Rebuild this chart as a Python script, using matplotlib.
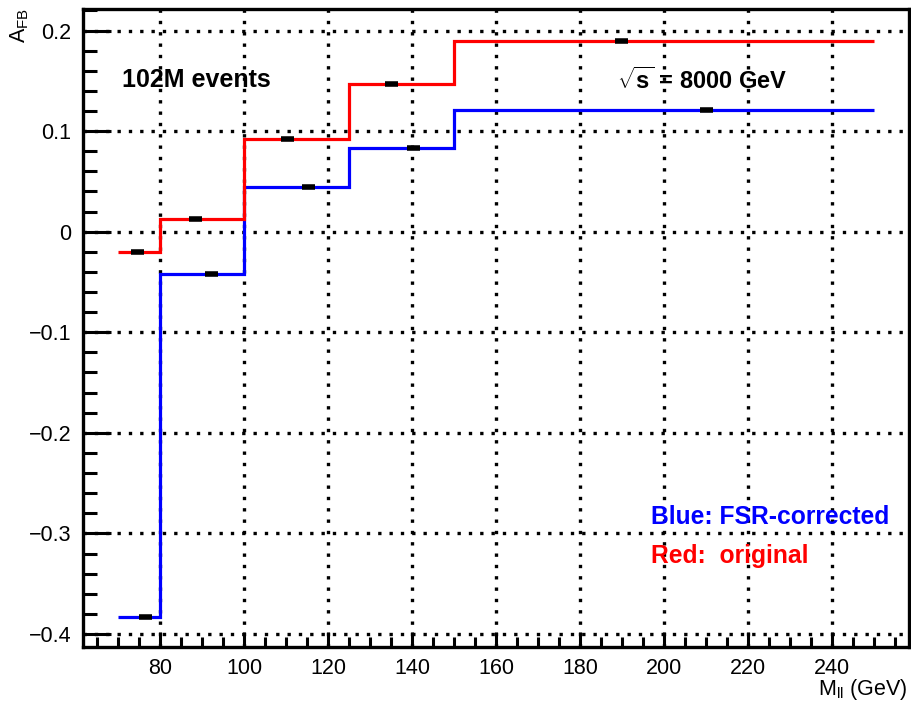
import matplotlib
matplotlib.use("Agg")
import matplotlib.pyplot as plt
import numpy as np

plt.rcParams['font.family'] = ['Liberation Sans', 'DejaVu Sans']
plt.rcParams['mathtext.fontset'] = 'custom'
plt.rcParams['mathtext.rm'] = 'Liberation Sans'
plt.rcParams['mathtext.it'] = 'Liberation Sans:italic'
plt.rcParams['mathtext.bf'] = 'Liberation Sans:bold'
plt.rcParams['axes.unicode_minus'] = True

# Mass bin edges (GeV)
bin_edges = [70, 80, 100, 125, 150, 250]

# Forward-backward asymmetry per mass bin
afb_original = [-0.0207, 0.0131, 0.0920, 0.1466, 0.1897]
afb_fsr_corrected = [-0.3830, -0.0422, 0.0442, 0.0830, 0.1211]

# Mean mass in each bin, where the points are drawn
mean_mass_original = [74.5, 88.3, 110.2, 135.0, 190.0]
mean_mass_fsr_corrected = [76.4, 92.3, 115.3, 140.3, 210.1]

x_ticks = [80, 100, 120, 140, 160, 180, 200, 220, 240]
y_ticks = [-0.4, -0.3, -0.2, -0.1, 0.0, 0.1, 0.2]
y_tick_labels = ["\u22120.4", "\u22120.3", "\u22120.2", "\u22120.1", "0", "0.1", "0.2"]

fig = plt.figure(figsize=(9.11, 7.08), dpi=100)
ax = fig.add_axes([0.0908, 0.0866, 0.9073, 0.9000])

ax.set_xlim(61.5, 258.5)
ax.set_ylim(-0.4126, 0.2209)

# dotted grid at major ticks
grid_style = dict(color='black', linewidth=2.4, linestyle=(0, (1, 2.4)), zorder=1)
for xv in x_ticks:
    ax.axvline(xv, **grid_style)
for yv in y_ticks:
    ax.axhline(yv, **grid_style)

ax.stairs(afb_fsr_corrected, bin_edges, baseline=None, color='#0000ff', linewidth=2.3, zorder=3)
ax.stairs(afb_original, bin_edges, baseline=None, color='#ff0000', linewidth=2.3, zorder=4)

half_w = 1.55
ax.hlines(afb_original, np.array(mean_mass_original) - half_w, np.array(mean_mass_original) + half_w,
          color='black', linewidth=4.0, zorder=5)
ax.hlines(afb_fsr_corrected, np.array(mean_mass_fsr_corrected) - half_w,
          np.array(mean_mass_fsr_corrected) + half_w, color='black', linewidth=4.0, zorder=5)

ax.set_xticks(x_ticks)
ax.set_xticks(np.arange(65, 258, 5), minor=True)
ax.set_yticks(y_ticks)
ax.set_yticklabels(y_tick_labels)
ax.set_yticks(np.arange(-0.40, 0.221, 0.02), minor=True)

ax.tick_params(axis='both', which='both', direction='in', top=False, right=False,
               labelsize=15.5, width=2.2, colors='black')
ax.tick_params(axis='y', which='major', length=20, pad=8)
ax.tick_params(axis='y', which='minor', length=10)
ax.tick_params(axis='x', which='major', length=11, pad=8)
ax.tick_params(axis='x', which='minor', length=7)

for sp in ax.spines.values():
    sp.set_linewidth(2.4)

ax.text(0.0476, 0.889, "102M events", transform=ax.transAxes, fontsize=18,
        fontweight='bold', ha='left', va='center')
ax.text(0.646, 0.889, r"$\sqrt{\mathbf{s}}$ = 8000 GeV", transform=ax.transAxes, fontsize=17,
        fontweight='bold', ha='left', va='center')
ax.text(0.688, 0.2035, "Blue: FSR-corrected", transform=ax.transAxes, fontsize=17.7,
        fontweight='bold', color='#0000ff', ha='left', va='center')
ax.text(0.688, 0.1423, "Red:  original", transform=ax.transAxes, fontsize=17.7,
        fontweight='bold', color='#ff0000', ha='left', va='center')

fig.text(20 / 911, 1 - 8 / 708, r"$\mathregular{A_{FB}}$", rotation=90, fontsize=15.5,
         ha='center', va='top')
fig.text(907 / 911, 1 - 690 / 708, r"$\mathregular{M_{ll}}$ (GeV)", fontsize=15.5,
         ha='right', va='center')

fig.savefig("out.png", dpi=100)
